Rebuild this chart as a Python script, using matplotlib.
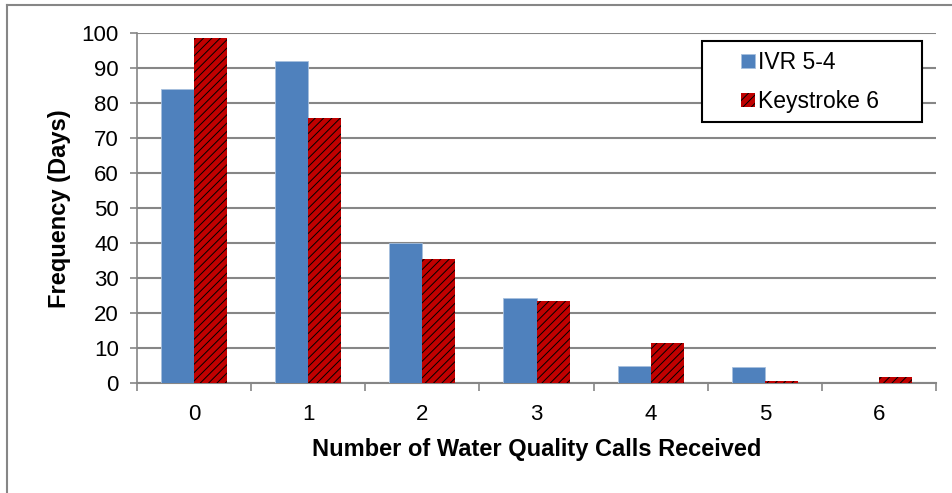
import numpy as np
import matplotlib.pyplot as plt
from matplotlib.lines import Line2D
from matplotlib.patches import Rectangle

plt.rcParams['font.family'] = ['Liberation Sans', 'DejaVu Sans']
plt.rcParams['hatch.color'] = 'black'
plt.rcParams['hatch.linewidth'] = 0.7

# Days with a given number of water quality calls
calls = ['0', '1', '2', '3', '4', '5', '6']
ivr_5_4 = [84, 92, 40, 24.5, 5, 4.7, 0]
keystroke_6 = [98.6, 75.8, 35.4, 23.4, 11.4, 0.7, 1.7]

grid_gray = '#868686'
blue = '#4F81BD'
red = '#C00000'

fig = plt.figure(figsize=(9.53, 4.93), dpi=100)
ax = fig.add_axes([0.1438, 0.2225, 0.9822 - 0.1438, 0.9325 - 0.2225])

x = np.arange(len(calls))
w = 0.29
ax.bar(x - w / 2, ivr_5_4, width=w, color=blue, edgecolor='#A7C0DE',
       linewidth=0.6, label='IVR 5-4', zorder=3)
ax.bar(x + w / 2, keystroke_6, width=w, color=red, edgecolor='black',
       linewidth=0, hatch='////', label='Keystroke 6', zorder=3)

ax.set_xlim(-0.5, len(calls) - 0.5)
ax.set_ylim(0, 100)
ax.set_yticks(np.arange(0, 101, 10))
ax.set_xticks(x)
ax.set_xticklabels(calls)
ax.set_xticks(np.arange(-0.5, len(calls)), minor=True)

ax.yaxis.grid(True, color=grid_gray, linewidth=1.5, zorder=0)
ax.set_axisbelow(True)
for side in ['top', 'right']:
    ax.spines[side].set_visible(False)
ax.spines['left'].set_color(grid_gray)
ax.spines['bottom'].set_color(grid_gray)
ax.spines['left'].set_linewidth(1.2)
ax.spines['bottom'].set_linewidth(1.5)

ax.tick_params(axis='y', which='major', direction='out', length=5,
               color=grid_gray, width=1.2, labelsize=16, pad=8)
ax.tick_params(axis='x', which='major', length=0, labelsize=16, pad=15)
ax.tick_params(axis='x', which='minor', direction='out', length=6,
               color=grid_gray, width=1.2)

ax.set_xlabel('Number of Water Quality Calls Received', fontsize=17,
              fontweight='bold', labelpad=9)
ax.set_ylabel('Frequency (Days)', fontsize=17, fontweight='bold',
              labelpad=8)

# legend box drawn separately so it can be sized freely
fig.add_artist(Rectangle((702 / 953, 1 - 122 / 493), 220 / 953, 81 / 493,
                         transform=fig.transFigure, facecolor='white',
                         edgecolor='black', linewidth=1.5, zorder=4))
leg = fig.legend(*ax.get_legend_handles_labels(), loc='center left',
                 bbox_to_anchor=(741 / 953, 1 - 82 / 493),
                 fontsize=16.5, frameon=False,
                 handlelength=0.6, handleheight=0.6, handletextpad=0.15,
                 labelspacing=0.7, borderpad=0, borderaxespad=0)
leg.set_zorder(5)

# outer chart border (left and top edges)
fig.add_artist(Line2D([0.0078, 0.0078], [0, 0.99], transform=fig.transFigure,
                      color=grid_gray, linewidth=1.5))
fig.add_artist(Line2D([0.0078, 1.0], [0.99, 0.99], transform=fig.transFigure,
                      color=grid_gray, linewidth=1.5))

fig.savefig('out.png', dpi=100)
